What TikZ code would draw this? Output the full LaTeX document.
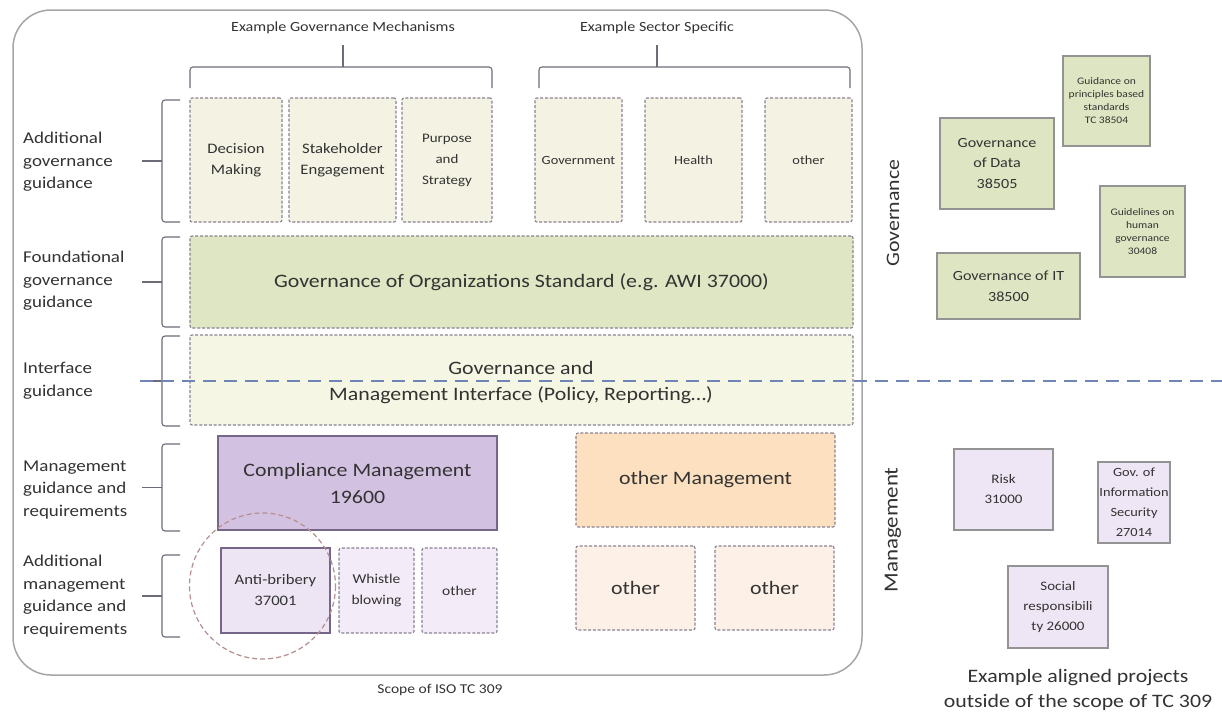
\documentclass[tikz,border=0pt]{standalone}
\usepackage{fontspec}
\setmainfont{Carlito}[FakeStretch=1.15]
\definecolor{txt}{HTML}{333333}
\definecolor{cream}{HTML}{F4F2E2}
\definecolor{found}{HTML}{DEE6C3}
\definecolor{iface}{HTML}{F6F6E4}
\definecolor{rgreen}{HTML}{DDE5C2}
\definecolor{comp}{HTML}{D3C1E2}
\definecolor{anti}{HTML}{EEE5F4}
\definecolor{whis}{HTML}{F3EBF7}
\definecolor{peach}{HTML}{FCE0C0}
\definecolor{lpeach}{HTML}{FDF0E6}
\definecolor{rlav}{HTML}{EFE6F5}
\definecolor{dashc}{HTML}{8A8294}
\definecolor{purb}{HTML}{76668A}
\definecolor{circ}{HTML}{B59090}
\definecolor{blued}{HTML}{6F86B5}
\definecolor{brk}{HTML}{6E6A78}
\begin{document}
\begin{tikzpicture}[x=1pt,y=-1pt,
  every node/.style={text=txt, align=center, inner sep=1pt},
  dbox/.style={draw=dashc, line width=1.1pt, dash pattern=on 3pt off 1.8pt, rounded corners=2pt},
  sbox/.style={draw=purb, line width=1.4pt},
  rbox/.style={draw=gray!85, line width=2pt},
  brkline/.style={draw=brk, line width=1.1pt, rounded corners=3pt},
  toptxt/.style={font=\fontsize{14}{20}\selectfont},
  smalltxt/.style={font=\fontsize{14.5}{21}\selectfont},
  sectxt/.style={font=\fontsize{12.5}{21}\selectfont},
  lefttxt/.style={font=\fontsize{16.5}{22.5}\selectfont, align=left, anchor=west},
  bigtxt/.style={font=\fontsize{19}{27}\selectfont},
  tinytxt/.style={font=\fontsize{10}{13}\selectfont},
  midtxt/.style={font=\fontsize{14}{20.5}\selectfont},
  rltxt/.style={font=\fontsize{13}{20}\selectfont}
]
\useasboundingbox (0,0) rectangle (1222,723);
\fill[white] (0,0) rectangle (1222,723);

% outer scope rectangle
\draw[draw=gray!70, line width=1.5pt, rounded corners=38pt] (13,10) rectangle (862,675);

% top labels and braces
\node[toptxt] (tl1) at (343,28) {Example Governance Mechanisms};
\node[toptxt] (tl2) at (657,28) {Example Sector Specific};
\draw[brkline] (190,88) -- (190,67) -- (492,67) -- (492,88);
\draw[brkline] (343,67) -- (343,45);
\draw[brkline] (539,88) -- (539,67) -- (850,67) -- (850,88);
\draw[brkline] (657,67) -- (657,45);

% top row boxes
\node[dbox, fill=cream, minimum width=92, minimum height=124, smalltxt] (dm) at (236,160) {Decision\\Making};
\node[dbox, fill=cream, minimum width=107, minimum height=124, smalltxt] (se) at (342.5,160) {Stakeholder\\Engagement};
\node[dbox, fill=cream, minimum width=90, minimum height=124, font=\fontsize{13}{21}\selectfont] (ps) at (447,160) {Purpose\\and\\Strategy};
\node[dbox, fill=cream, minimum width=87, minimum height=124, sectxt] (gov) at (578.5,160) {Government};
\node[dbox, fill=cream, minimum width=97, minimum height=124, sectxt] (hl) at (693.5,160) {Health};
\node[dbox, fill=cream, minimum width=87, minimum height=124, sectxt] (oth1) at (808.5,160) {other};

% foundational and interface
\node[dbox, fill=found, minimum width=663, minimum height=92, bigtxt] (fd) at (521.5,282) {Governance of Organizations Standard (e.g. AWI 37000)};
\node[dbox, fill=iface, minimum width=663, minimum height=90, bigtxt] (ifc) at (521.5,380) {};
\node[bigtxt] (ifc1) at (521,368) {Governance and};
\node[bigtxt] (ifc2) at (521,395) {Management Interface (Policy, Reporting…)};

% management boxes
\node[sbox, fill=comp, minimum width=279, minimum height=94, bigtxt] (cm) at (357.5,483) {Compliance Management\\19600};
\node[dbox, fill=peach, minimum width=259, minimum height=94, bigtxt] (om) at (705.5,480) {other Management};
\node[sbox, fill=anti, minimum width=109, minimum height=85, smalltxt] (ab) at (275.5,590.5) {Anti-bribery\\37001};
\node[dbox, fill=whis, minimum width=75, minimum height=85, font=\fontsize{13.5}{21}\selectfont] (wb) at (376.5,590.5) {Whistle\\blowing};
\node[dbox, fill=whis, minimum width=75, minimum height=85, font=\fontsize{13.5}{21}\selectfont] (oth2) at (459.5,590.5) {other};
\node[dbox, fill=lpeach, minimum width=119, minimum height=84, bigtxt] (oth3) at (635.5,588) {other};
\node[dbox, fill=lpeach, minimum width=119, minimum height=84, bigtxt] (oth4) at (774.5,588) {other};
\draw[circ, line width=1.2pt, dash pattern=on 5pt off 3pt] (262.5,586) circle (73);

% left labels and brackets
\node[lefttxt] (l1) at (22,162) {Additional\\governance\\guidance};
\node[lefttxt] (l2) at (22,281) {Foundational\\governance\\guidance};
\node[lefttxt] (l3) at (22,381) {Interface\\guidance};
\node[lefttxt] (l4) at (22,490) {Management\\guidance and\\requirements};
\node[lefttxt] (l5) at (22,596) {Additional\\management\\guidance and\\requirements};
\foreach \a/\b in {100/222, 237/327, 336/426, 444/531, 555/637}{
  \draw[brkline] (180,\a) -- (162,\a) -- (162,\b) -- (180,\b);
  \draw[brkline] (162,{(\a+\b)/2}) -- (142,{(\a+\b)/2});
}

% blue dashed divider
\draw[blued, line width=2.6pt, dash pattern=on 13pt off 8pt] (140,381) -- (1222,381);

% rotated labels
\node[bigtxt, rotate=90] (gl) at (893,213) {Governance};
\node[font=\fontsize{20}{27}\selectfont, rotate=90] (ml) at (893,530) {Management};

% bottom captions
\node[font=\fontsize{13.5}{20}\selectfont] (sc) at (440,690) {Scope of ISO TC 309};
\node[font=\fontsize{19}{25}\selectfont] (ex) at (1078,690) {Example aligned projects\\outside of the scope of TC 309};

% right boxes governance
\node[rbox, fill=rgreen, minimum width=87, minimum height=90, tinytxt] (r1) at (1106.5,101) {Guidance on\\principles based\\standards\\TC 38504};
\node[rbox, fill=rgreen, minimum width=114, minimum height=91, midtxt] (r2) at (997,163.5) {Governance\\of Data\\38505};
\node[rbox, fill=rgreen, minimum width=85, minimum height=91, tinytxt] (r3) at (1142.5,231.5) {Guidelines on\\human\\governance\\30408};
\node[rbox, fill=rgreen, minimum width=143, minimum height=66, midtxt] (r4) at (1008.5,286) {Governance of IT\\38500};

% right boxes management
\node[rbox, fill=rlav, minimum width=99, minimum height=81, rltxt] (r5) at (1003.5,489.5) {Risk\\31000};
\node[rbox, fill=rlav, minimum width=72, minimum height=81, font=\fontsize{12.5}{20}\selectfont] (r6) at (1134,502.5) {Gov. of\\Information\\Security\\27014};
\node[rbox, fill=rlav, minimum width=100, minimum height=82, rltxt] (r7) at (1058,607) {Social\\responsibili\\ty 26000};
\end{tikzpicture}
\end{document}
